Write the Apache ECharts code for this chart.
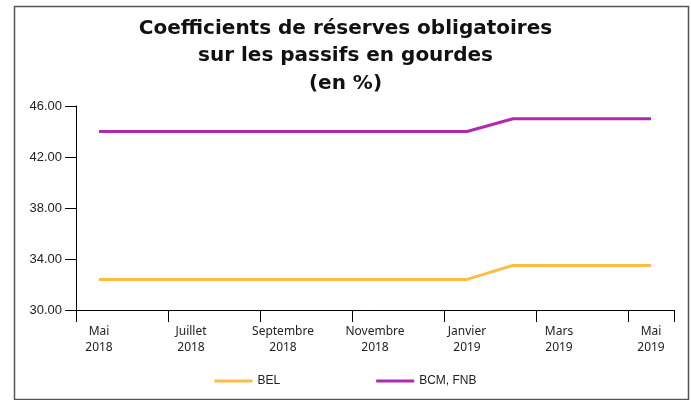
<!DOCTYPE html>
<html>
<head>
<meta charset="utf-8">
<script src="https://cdn.jsdelivr.net/npm/echarts@6/dist/echarts.min.js"></script>
<style>html,body{margin:0;padding:0;background:#fff}#c{width:691px;height:400px}</style>
</head>
<body>
<div id="c"></div>
<script>
const titleText = 'Coefficients de réserves obligatoires\nsur les passifs en gourdes\n(en %)';
const categories = ['Mai\n2018','Juin\n2018','Juillet\n2018','Août\n2018','Septembre\n2018','Octobre\n2018','Novembre\n2018','Décembre\n2018','Janvier\n2019','Février\n2019','Mars\n2019','Avril\n2019','Mai\n2019'];
const seriesNames = ['BEL', 'BCM, FNB'];
const belValues = [32.4,32.4,32.4,32.4,32.4,32.4,32.4,32.4,32.4,33.5,33.5,33.5,33.5];
const bcmValues = [44,44,44,44,44,44,44,44,44,45,45,45,45];
const yMin = 30, yMax = 46, yInterval = 4;

const chart = echarts.init(document.getElementById('c'), null, {renderer: 'canvas'});
chart.setOption({
  animation: false,
  backgroundColor: '#fff',
  title: {
    text: titleText,
    left: 'center',
    top: 10,
    textStyle: {fontFamily: 'DejaVu Sans', fontWeight: 'bold', fontSize: 20, lineHeight: 27.5, color: '#111'}
  },
  graphic: [{
    type: 'rect', left: 12, top: 4, silent: true,
    shape: {width: 674, height: 393},
    style: {fill: 'none', stroke: '#555', lineWidth: 1.5}
  }],
  legend: {
    bottom: 8,
    left: 'center',
    itemGap: 96,
    itemWidth: 38,
    itemHeight: 3,
    icon: 'rect',
    textStyle: {fontFamily: 'Liberation Sans', fontSize: 12, color: '#222'},
    data: seriesNames
  },
  grid: {left: 76, right: 17, top: 106, bottom: 90},
  xAxis: {
    type: 'category',
    data: categories,
    boundaryGap: true,
    axisLine: {lineStyle: {color: '#000', width: 1}},
    axisTick: {show: true, interval: 1, length: 12, lineStyle: {color: '#000'}},
    axisLabel: {interval: 1, margin: 14, fontFamily: 'Noto Sans', fontSize: 12, lineHeight: 16, color: '#222'},
    splitLine: {show: false}
  },
  yAxis: {
    type: 'value',
    min: yMin, max: yMax, interval: yInterval,
    axisLine: {show: true, lineStyle: {color: '#000', width: 1}},
    axisTick: {show: true, length: 11, lineStyle: {color: '#000'}},
    axisLabel: {margin: 14, fontFamily: 'Liberation Sans', fontSize: 13, color: '#222', formatter: v => v.toFixed(2)},
    splitLine: {show: false}
  },
  series: [
    {name: seriesNames[0], type: 'line', data: belValues, symbol: 'none', lineStyle: {color: '#FFBC42', width: 3}, itemStyle: {color: '#FFBC42'}},
    {name: seriesNames[1], type: 'line', data: bcmValues, symbol: 'none', lineStyle: {color: '#B02AAE', width: 3}, itemStyle: {color: '#B02AAE'}}
  ]
});
</script>
</body>
</html>
